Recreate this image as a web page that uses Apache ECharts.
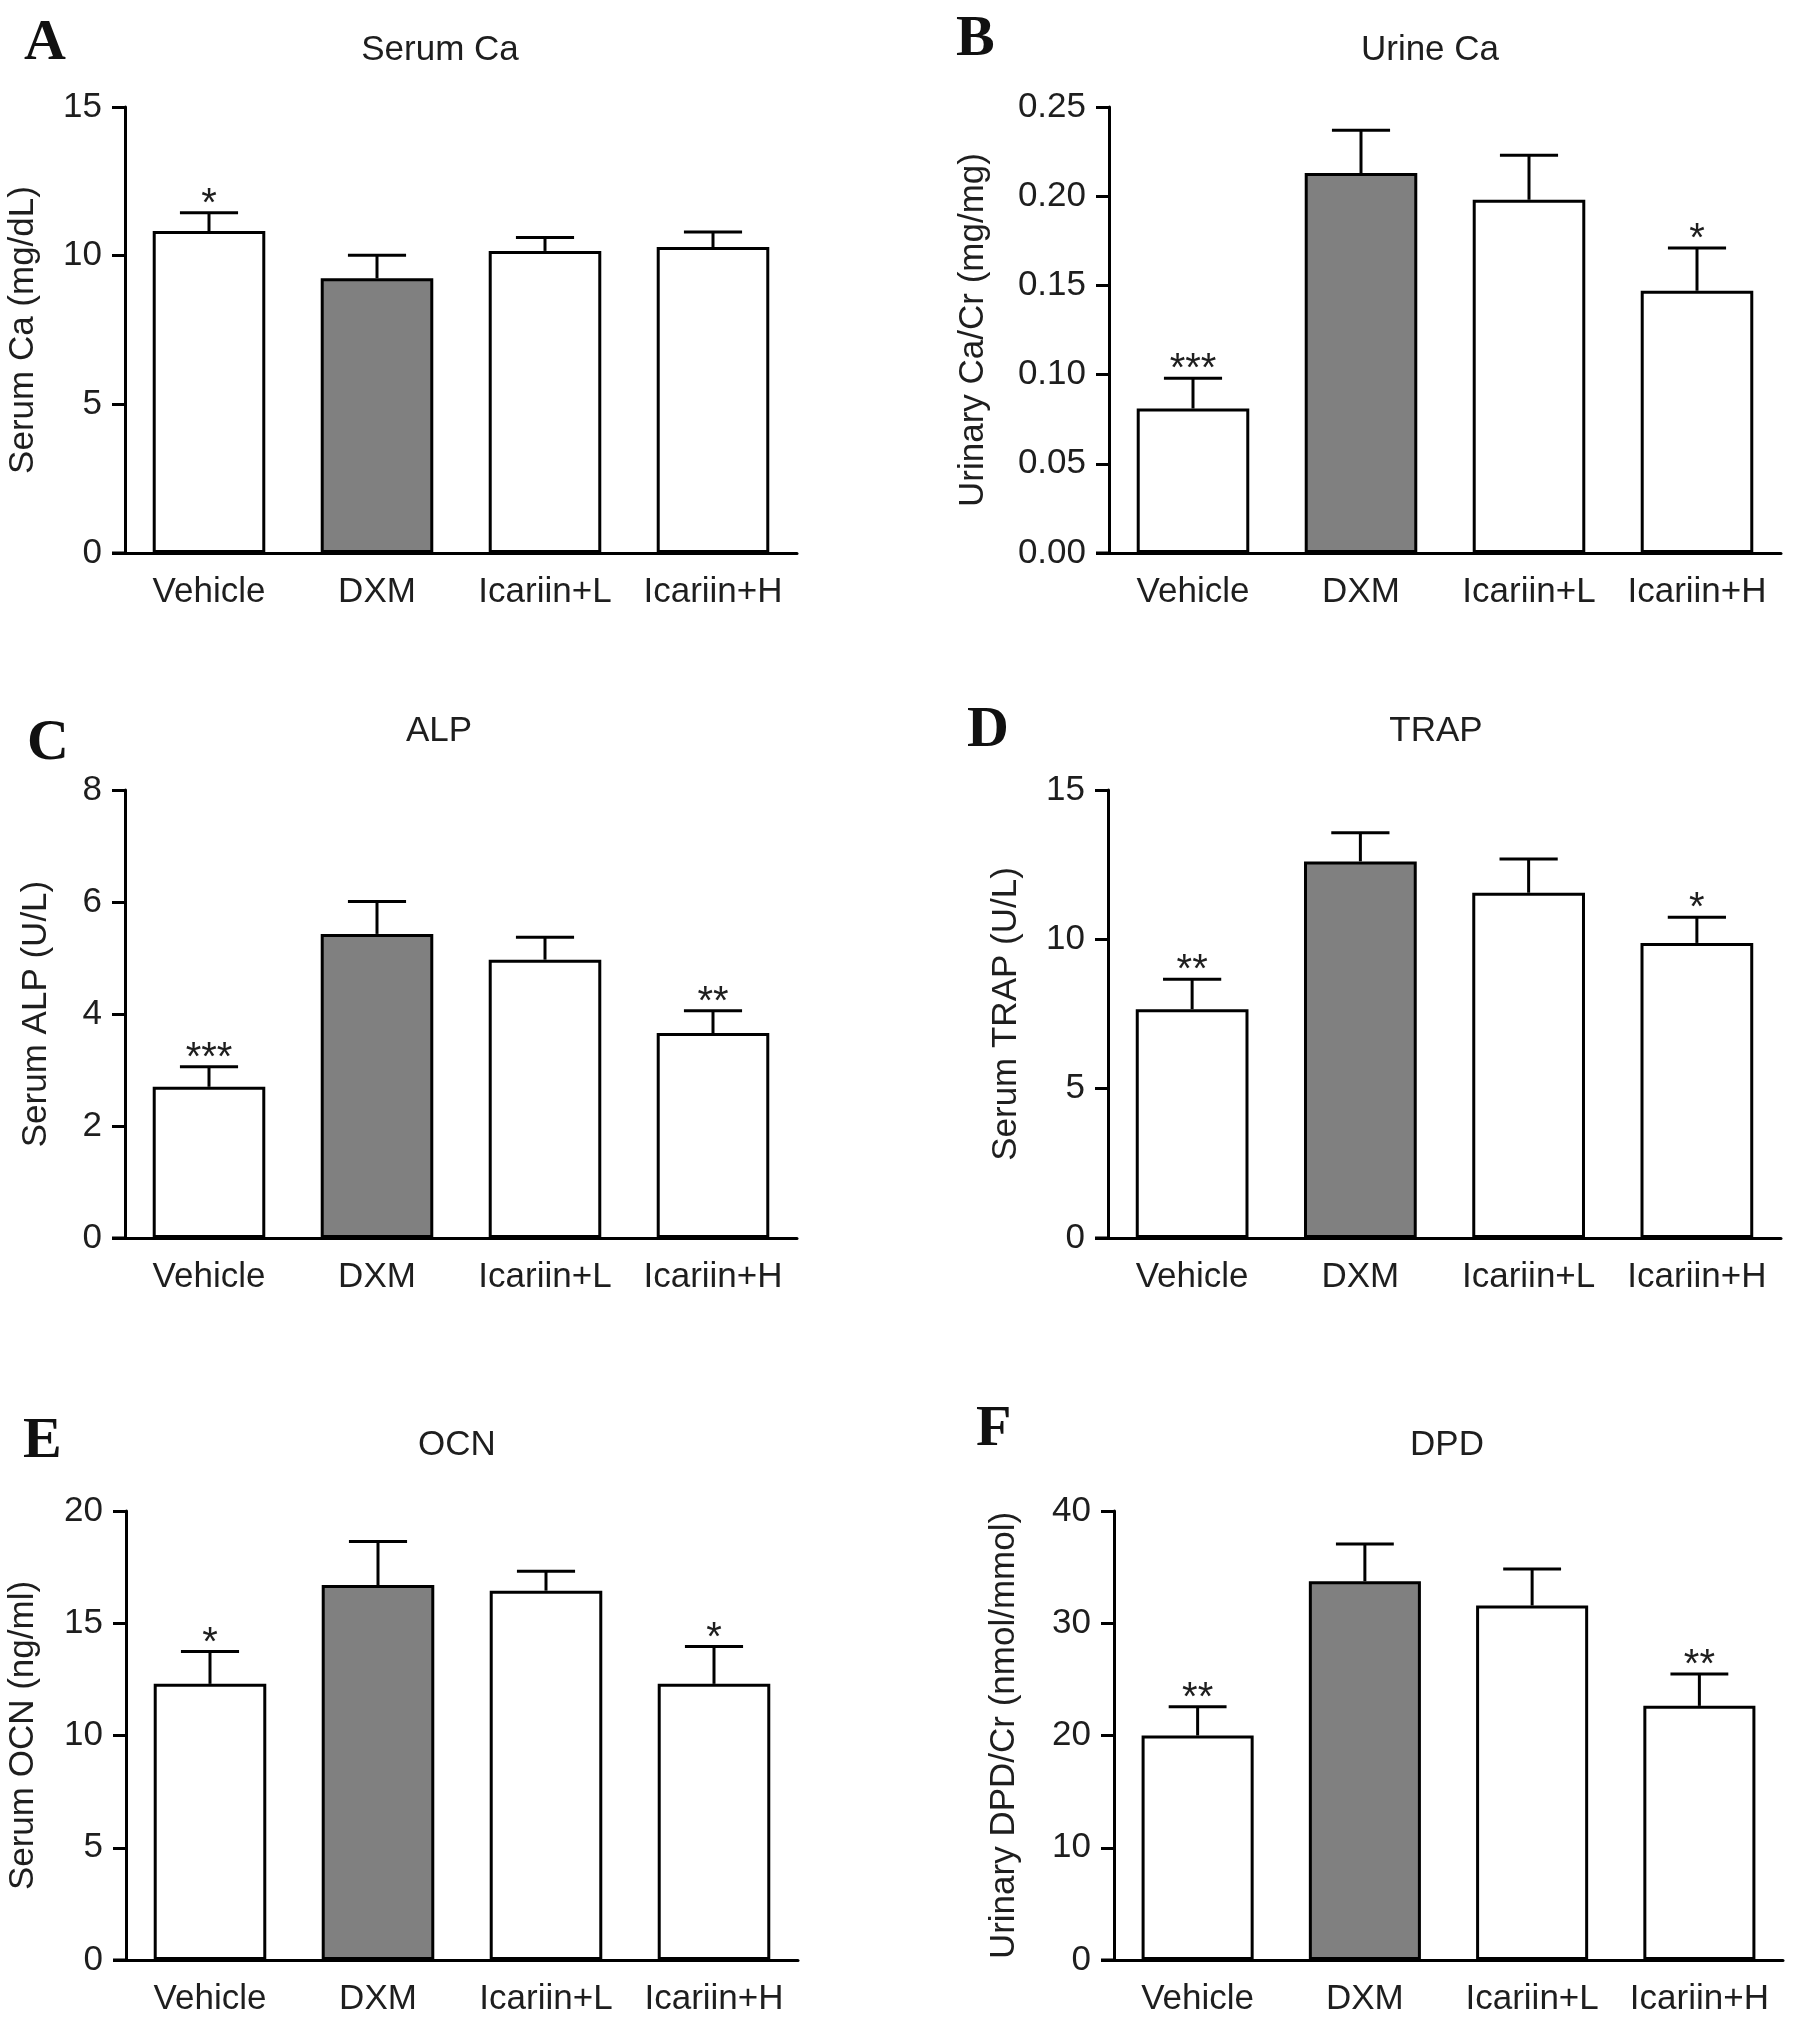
<!DOCTYPE html>
<html>
<head>
<meta charset="utf-8">
<script src="https://cdn.jsdelivr.net/npm/echarts@6/dist/echarts.min.js"></script>
<style>
  html, body { margin: 0; padding: 0; background: #fff; }
  #chart { width: 1795px; height: 2021px; }
</style>
</head>
<body>
<div id="chart"></div>
<script>
// groups on every x axis
const groups = ['Vehicle', 'DXM', 'Icariin+L', 'Icariin+H'];

// A - Serum Ca (mg/dL)
const serumCaMean = [10.83, 9.24, 10.16, 10.29];
const serumCaSem = [0.61, 0.77, 0.45, 0.51];
const serumCaStars = ['*', '', '', ''];

// B - Urine Ca (mg/mg)
const urineCaMean = [0.081, 0.213, 0.198, 0.147];
const urineCaSem = [0.017, 0.024, 0.025, 0.024];
const urineCaStars = ['***', '', '', '*'];

// C - ALP (U/L)
const alpMean = [2.70, 5.43, 4.97, 3.66];
const alpSem = [0.36, 0.58, 0.40, 0.40];
const alpStars = ['***', '', '', '**'];

// D - TRAP (U/L)
const trapMean = [7.66, 12.61, 11.56, 9.88];
const trapSem = [1.00, 0.96, 1.13, 0.86];
const trapStars = ['**', '', '', '*'];

// E - OCN (ng/ml)
const ocnMean = [12.30, 16.70, 16.45, 12.30];
const ocnSem = [1.44, 1.94, 0.87, 1.66];
const ocnStars = ['*', '', '', '*'];

// F - DPD (nmol/mmol)
const dpdMean = [20.0, 33.74, 31.58, 22.64];
const dpdSem = [2.57, 3.32, 3.25, 2.83];
const dpdStars = ['**', '', '', '**'];

const barColors = ['#ffffff', '#808080', '#ffffff', '#ffffff'];

const panels = [
  { letter: 'A', title: 'Serum Ca', yName: 'Serum Ca (mg/dL)', mean: serumCaMean, sem: serumCaSem, stars: serumCaStars,
    max: 15, interval: 5, digits: 0, left: 125, top: 107, width: 672, height: 446, nameGap: 84,
    titleX: 440, titleY: 50, letterX: 24, letterY: 44 },
  { letter: 'B', title: 'Urine Ca', yName: 'Urinary Ca/Cr (mg/mg)', mean: urineCaMean, sem: urineCaSem, stars: urineCaStars,
    max: 0.25, interval: 0.05, digits: 2, left: 1109, top: 107, width: 672, height: 446, nameGap: 118,
    titleX: 1430, titleY: 50, letterX: 956, letterY: 40 },
  { letter: 'C', title: 'ALP', yName: 'Serum ALP (U/L)', mean: alpMean, sem: alpSem, stars: alpStars,
    max: 8, interval: 2, digits: 0, left: 125, top: 790, width: 672, height: 448, nameGap: 71,
    titleX: 439, titleY: 731, letterX: 27, letterY: 744 },
  { letter: 'D', title: 'TRAP', yName: 'Serum TRAP (U/L)', mean: trapMean, sem: trapSem, stars: trapStars,
    max: 15, interval: 5, digits: 0, left: 1108, top: 790, width: 673, height: 448, nameGap: 84,
    titleX: 1436, titleY: 731, letterX: 967, letterY: 731 },
  { letter: 'E', title: 'OCN', yName: 'Serum OCN (ng/ml)', mean: ocnMean, sem: ocnSem, stars: ocnStars,
    max: 20, interval: 5, digits: 0, left: 126, top: 1511, width: 672, height: 449, nameGap: 85,
    titleX: 457, titleY: 1445, letterX: 23, letterY: 1442 },
  { letter: 'F', title: 'DPD', yName: 'Urinary DPD/Cr (nmol/mmol)', mean: dpdMean, sem: dpdSem, stars: dpdStars,
    max: 40, interval: 10, digits: 0, left: 1114, top: 1511, width: 669, height: 449, nameGap: 92,
    titleX: 1447, titleY: 1445, letterX: 976, letterY: 1430 }
];

const textColor = '#1e1e1e';
const sans = '"Liberation Sans", Arial, sans-serif';
const tickLen = 13;

const chart = echarts.init(document.getElementById('chart'), null, { renderer: 'canvas' });

const grid = [], xAxis = [], yAxis = [], series = [], graphic = [];

panels.forEach((p, k) => {
  grid.push({ left: p.left, top: p.top, width: p.width, height: p.height, containLabel: false });
  xAxis.push({
    type: 'category', gridIndex: k, data: groups,
    axisLine: { lineStyle: { color: '#000', width: 3 } },
    axisTick: { alignWithLabel: true, length: tickLen, lineStyle: { color: '#000', width: 3 } },
    axisLabel: { color: textColor, fontSize: 35, fontFamily: sans, margin: 22, interval: 0 }
  });
  yAxis.push({
    type: 'value', gridIndex: k, min: 0, max: p.max, interval: p.interval,
    name: p.yName, nameLocation: 'middle', nameGap: p.nameGap, nameRotate: 90,
    nameTextStyle: { color: textColor, fontSize: 35, fontFamily: sans },
    axisLine: { show: true, lineStyle: { color: '#000', width: 3 } },
    axisTick: { show: true, length: tickLen, lineStyle: { color: '#000', width: 3 } },
    axisLabel: { color: textColor, fontSize: 35, fontFamily: sans, margin: 23,
      formatter: v => v.toFixed(p.digits) },
    splitLine: { show: false }
  });
  series.push({
    type: 'bar', xAxisIndex: k, yAxisIndex: k, barWidth: '67%',
    data: p.mean.map((v, i) => ({ value: v, itemStyle: { color: barColors[i] } })),
    itemStyle: { borderColor: '#000', borderWidth: 3 },
    silent: true
  });
  const stars = p.stars;
  series.push({
    type: 'custom', xAxisIndex: k, yAxisIndex: k, silent: true, z: 5,
    data: p.mean.map((v, i) => [i, v, p.sem[i]]),
    renderItem: (params, api) => {
      const i = api.value(0), m = api.value(1), e = api.value(2);
      const base = api.coord([i, m]);
      const tip = api.coord([i, m + e]);
      const half = api.size([1, 0])[0] * 0.173;
      const line = { stroke: '#000', lineWidth: 3 };
      const kids = [
        { type: 'line', shape: { x1: base[0], y1: base[1], x2: tip[0], y2: tip[1] }, style: line },
        { type: 'line', shape: { x1: tip[0] - half, y1: tip[1], x2: tip[0] + half, y2: tip[1] }, style: line }
      ];
      // x axis line runs on past the y axis by one tick length
      if (params.dataIndex === 0) {
        const o = api.coord([0, 0]);
        const x0 = o[0] - api.size([1, 0])[0] / 2;
        kids.push({ type: 'line', shape: { x1: x0 - tickLen, y1: o[1], x2: x0, y2: o[1] }, style: line });
      }
      const s = stars[params.dataIndex];
      if (s) {
        kids.push({ type: 'text', style: { text: s, x: tip[0], y: tip[1] + 12, textAlign: 'center',
          textVerticalAlign: 'bottom', font: '40px ' + sans, fill: textColor } });
      }
      return { type: 'group', children: kids };
    }
  });
  graphic.push({ type: 'text', style: { text: p.title, x: p.titleX, y: p.titleY, textAlign: 'center',
    textVerticalAlign: 'middle', font: '35px ' + sans, fill: textColor } });
  graphic.push({ type: 'text', style: { text: p.letter, x: p.letterX, y: p.letterY, textAlign: 'left',
    textVerticalAlign: 'middle', font: 'bold 58px "Liberation Serif", "Times New Roman", serif', fill: '#111' } });
});

chart.setOption({
  backgroundColor: '#fff',
  animation: false,
  grid, xAxis, yAxis, series, graphic
});
</script>
</body>
</html>
